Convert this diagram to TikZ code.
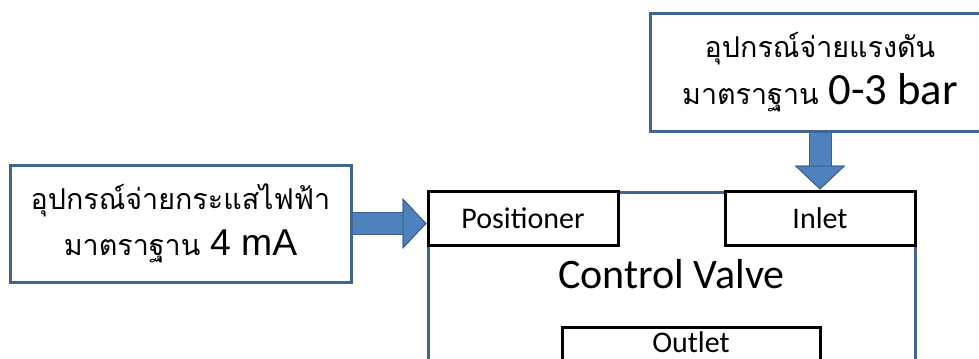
\documentclass[tikz,border=0pt]{standalone}
\usepackage{fontspec}
\setmainfont{Carlito}
\newfontfamily\thaifont[Script=Thai]{Loma}
\newfontfamily\arialfont{Liberation Sans}
\usetikzlibrary{arrows.meta}
\definecolor{boxline}{HTML}{3F6592}
\definecolor{arrfill}{HTML}{4F81BD}
\definecolor{arrline}{HTML}{3A6190}

\begin{document}
\begin{tikzpicture}[
  x=0.75pt, y=-0.75pt,
  box/.style={rectangle, draw=boxline, line width=2.25pt, fill=white,
              align=center, font=\thaifont\fontsize{21.5}{35}\selectfont},
  inbox/.style={rectangle, draw=black, line width=2.25pt, fill=white,
                minimum width=142.5pt, minimum height=40.5pt,
                font=\fontsize{22.5}{27}\selectfont},
  arr/.style={line width=15.75pt, arrfill,
              -{Triangle[length=18pt, width=38pt, line width=0.75pt, fill=arrfill, color=arrline]},
              preaction={draw=arrline, line width=17.25pt}},
]
\clip (0,0) rectangle (979,358);
% Fuentes de presion y corriente
\node[box, minimum width=255pt, minimum height=88.5pt] (press) at (820,72)
  {อุปกรณ์จ่ายแรงดัน\\มาตราฐาน {\rmfamily\fontsize{33.5}{35}\selectfont 0-3 bar}};
\node[box, minimum width=255.75pt, minimum height=87.75pt] (curr) at (180.5,223.5)
  {อุปกรณ์จ่ายกระแสไฟฟ้า\\มาตราฐาน {\arialfont\fontsize{28}{35}\selectfont 4 mA}};
% Valvula
\node[rectangle, draw=boxline, line width=2.25pt, anchor=north,
      minimum width=365.25pt, inner ysep=50pt, text depth=80pt,
      font=\fontsize{31.5}{36}\selectfont] (valve) at (671.5,191) {Control Valve};
\node[inbox] (posi)  at (523,218) {Positioner};
\node[inbox] (inlet) at (820,218) {Inlet};
\node[inbox, anchor=north, minimum width=193.5pt, minimum height=0pt,
      inner ysep=3pt, text depth=40pt] (outlet) at (691,326) {Outlet};
% Flechas
\draw[arr] (press.south -| inlet.north) -- (inlet.north);
\draw[arr] (curr.east) -- (curr.east -| posi.west);
\end{tikzpicture}
\end{document}
